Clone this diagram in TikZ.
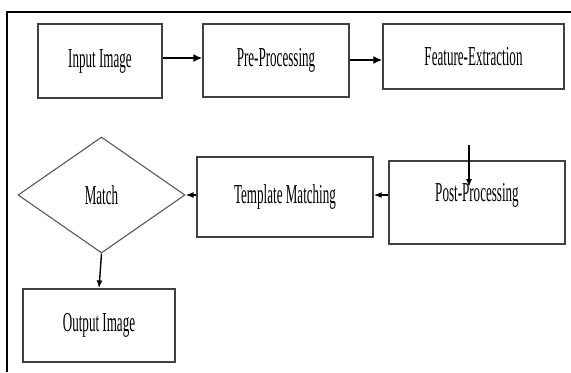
\documentclass[tikz,border=0pt]{standalone}
\usepackage{fontspec}
\setmainfont{Liberation Serif}
\usepackage{graphicx}
\usetikzlibrary{shapes.geometric,arrows.meta}
\newcommand{\tallt}[1]{\scalebox{1.05}[2.2]{#1}}
\begin{document}
\begin{tikzpicture}[x=1bp,y=-1bp,
    box/.style={draw=black!75,line width=1.3bp,inner sep=0pt,font=\fontsize{12.5}{14}\selectfont},
    decide/.style={draw=black!65,line width=1.1bp,diamond,inner sep=0pt,font=\fontsize{12.5}{14}\selectfont},
    arr/.style={-{Latex[length=9pt,width=8pt]},line width=2.6bp},
    thin arr/.style={-{Latex[length=8pt,width=6pt]},line width=1.4bp}]
        \useasboundingbox (0,0) rectangle (571,372);
        \draw[line width=1.6bp] (7,372) -- (7,12) -- (571,12);
        % top row
        \node[box,minimum width=124bp,minimum height=74bp] (inp) at (100,61) {\tallt{Input Image}};
        \node[box,minimum width=146bp,minimum height=73bp] (pre) at (276,60.5) {\tallt{Pre-Processing}};
        \node[box,minimum width=181bp,minimum height=65bp] (feat) at (473.5,56.5) {\tallt{Feature-Extraction}};
        % second row
        \node[decide,minimum width=167bp,minimum height=116bp] (match) at (101.5,195) {\tallt{Match}};
        \node[box,minimum width=176bp,minimum height=80bp] (tmpl) at (285,197) {\tallt{Template Matching}};
        \node[box,minimum width=176bp,minimum height=83bp] (post) at (477,202.5) {\raisebox{7bp}[\height][\depth]{\tallt{Post-Processing}}};
        \node[box,minimum width=152bp,minimum height=73bp] (out) at (99,325.5) {\tallt{Output Image}};
        \coordinate (fe) at (469,145);
        \coordinate (pe) at (469,187);
        \draw[arr] (inp.east |- 0,58) -- (pre.west |- 0,58);
        \draw[arr] (pre.east |- 0,60) -- (feat.west |- 0,60);
        \draw[thin arr] (fe) -- (pe);
        \draw[thin arr] (post.west |- match) -- (tmpl.east |- match);
        \draw[thin arr] (tmpl.west |- match) -- (match.east);
        \draw[thin arr] (match.south) -- (out.north);
    \end{tikzpicture}
\end{document}
